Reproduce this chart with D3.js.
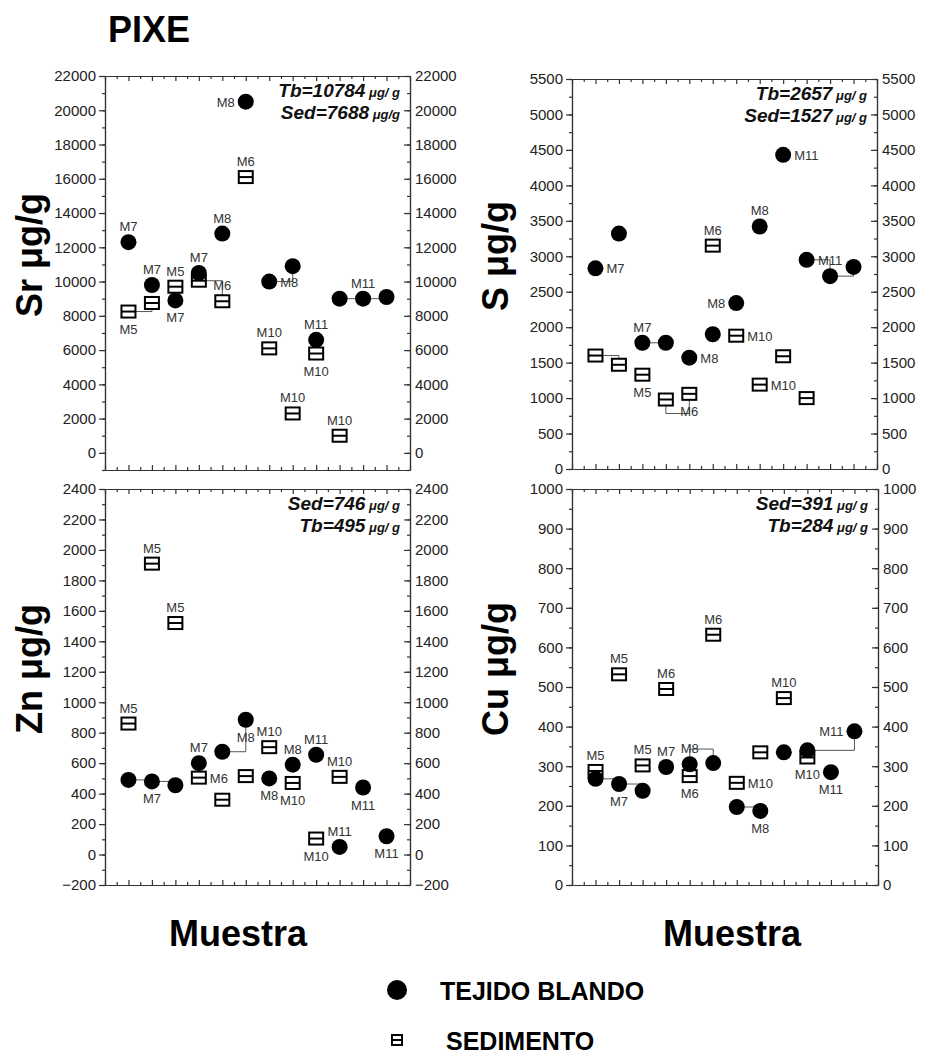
<!DOCTYPE html>
<html>
<head>
<meta charset="utf-8">
<script src="https://cdn.jsdelivr.net/npm/d3@7"></script>
<style>
  body { margin: 0; background: #fff; }
  svg { font-family: "Liberation Sans", Arial, sans-serif; }
  .tick text { font-size: 15px; fill: #222; }
  .axis path, .axis line { stroke: #333; stroke-width: 1.2; }
  .pt-label { font-size: 13px; fill: #333; }
  .note { font-weight: bold; font-style: italic; fill: #111; }
</style>
</head>
<body>
<div id="chart"></div>
<script>
// sample positions along the x axis (no labels shown)
const muestras = [1, 2, 3, 4, 5, 6, 7, 8, 9, 10, 11, 12];

// Sr
const srTejido = [12300, 9800, 8900, 10500, 12800, 20500, 10000, 10900, 6600, 9000, 9000, 9100];
const srSedimento = [8250, 8750, 9700, 10050, 8850, 16100, 6100, 2300, 5800, 1000];
const srTejidoLabels = ["M7", "M7", "M7", "M7", "M8", "M8", "M8", "", "M11", "", "M11", ""];
const srSedimentoLabels = ["M5", "", "M5", "", "M6", "M6", "M10", "M10", "M10", "M10"];
const srTicks = [0, 2000, 4000, 6000, 8000, 10000, 12000, 14000, 16000, 18000, 20000, 22000];
const srNote = ["Tb=10784", "Sed=7688"];

// S
const sTejido = [2830, 3320, 1780, 1780, 1570, 1900, 2340, 3420, 4430, 2950, 2720, 2850];
const sSedimento = [1600, 1470, 1330, 980, 1060, 3150, 1880, 1190, 1590, 1000];
const sTejidoLabels = ["M7", "", "M7", "", "M8", "", "M8", "M8", "M11", "", "M11", ""];
const sSedimentoLabels = ["", "", "M5", "", "M6", "M6", "M10", "M10", "", ""];
const sTicks = [0, 500, 1000, 1500, 2000, 2500, 3000, 3500, 4000, 4500, 5000, 5500];
const sNote = ["Tb=2657", "Sed=1527"];

// Zn
const znTejido = [490, 480, 455, 600, 675, 885, 500, 590, 655, 50, 440, 120];
const znSedimento = [860, 1910, 1520, 505, 360, 515, 705, 470, 105, 510];
const znTejidoLabels = ["", "M7", "", "M7", "", "M8", "M8", "M8", "M11", "M11", "M11", "M11"];
const znSedimentoLabels = ["M5", "M5", "M5", "M6", "", "", "M10", "M10", "M10", "M10"];
const znTicks = [-200, 0, 200, 400, 600, 800, 1000, 1200, 1400, 1600, 1800, 2000, 2200, 2400];
const znNote = ["Sed=746", "Tb=495"];

// Cu
const cuTejido = [268, 255, 238, 298, 305, 308, 197, 187, 335, 340, 285, 388];
const cuSedimento = [288, 532, 302, 495, 275, 632, 258, 335, 472, 322];
const cuTejidoLabels = ["", "M7", "", "M7", "M8", "", "", "M8", "", "", "M11", "M11"];
const cuSedimentoLabels = ["M5", "M5", "M5", "M6", "M6", "M6", "M10", "", "M10", "M10"];
const cuTicks = [0, 100, 200, 300, 400, 500, 600, 700, 800, 900, 1000];
const cuNote = ["Sed=391", "Tb=284"];

// panel layout and label placement (t/b/l/r around the marker)
const panels = [
  { name: "Sr", box: [105, 76, 410, 470], domain: [-1000, 22000], minor: 1000,
    tejido: srTejido, sed: srSedimento, tLab: srTejidoLabels, sLab: srSedimentoLabels, ticks: srTicks, note: srNote,
    tPos: ["t", "t", "b", "t", "t", "l", "r", "", "t", "", "t", ""],
    sPos: ["b", "", "t", "", "t", "t", "t", "t", "b", "t"],
    links: [["s", 1, 2, "h"], ["s", 4, 5, "h"], ["c", 7, 8, "h"], ["c", 10, 12, "h"]],
    unit2: " μg/g", labelX: 42 },
  { name: "S", box: [572, 79, 877, 469], domain: [0, 5500], minor: 250,
    tejido: sTejido, sed: sSedimento, tLab: sTejidoLabels, sLab: sSedimentoLabels, ticks: sTicks, note: sNote,
    tPos: ["r", "", "t", "", "r", "", "l", "t", "r", "", "t", ""],
    sPos: ["", "", "b", "", "b", "t", "r", "r", "", ""],
    links: [["c", 3, 4, "h"], ["c", 10, 12, "h"], ["s", 1, 2, "h"], ["s", 4, 5, "u"]],
    unit2: " μg/ g", labelX: 508 },
  { name: "Zn", box: [105, 489, 410, 885], domain: [-200, 2400], minor: 100,
    tejido: znTejido, sed: znSedimento, tLab: znTejidoLabels, sLab: znSedimentoLabels, ticks: znTicks, note: znNote,
    tPos: ["", "b", "", "t", "", "b", "b", "t", "t", "t", "b", "b"],
    sPos: ["t", "t", "t", "r", "", "", "t", "b", "b", "t"],
    links: [["c", 1, 3, "h"], ["c", 5, 6, "h"]],
    unit2: " μg/ g", labelX: 42 },
  { name: "Cu", box: [572, 489, 878, 885], domain: [0, 1000], minor: 50,
    tejido: cuTejido, sed: cuSedimento, tLab: cuTejidoLabels, sLab: cuSedimentoLabels, ticks: cuTicks, note: cuNote,
    tPos: ["", "b", "", "t", "t", "", "", "b", "", "", "b", "l"],
    sPos: ["t", "t", "t", "t", "b", "t", "r", "", "t", "b"],
    links: [["c", 1, 3, "h"], ["c", 5, 6, "n"], ["c", 7, 8, "h"], ["c", 10, 12, "d"]],
    unit2: " μg/ g", labelX: 508 }
];

const svg = d3.select("#chart").append("svg").attr("width", 925).attr("height", 1057);

svg.append("text").attr("x", 108).attr("y", 42)
  .style("font-size", "36px").style("font-weight", "bold").text("PIXE");

function drawPanel(p) {
  const [x0, y0, x1, y1] = p.box;
  const x = d3.scaleLinear().domain([0, 13]).range([x0, x1]);
  const y = d3.scaleLinear().domain(p.domain).range([y1, y0]);
  const g = svg.append("g");
  const minorTicks = d3.range(p.domain[0], p.domain[1] + 1, p.minor);

  // y axes
  g.append("g").attr("class", "axis").attr("transform", `translate(${x0},0)`)
    .call(d3.axisLeft(y).tickValues(minorTicks).tickSize(3).tickSizeOuter(0).tickFormat(""));
  g.append("g").attr("class", "axis").attr("transform", `translate(${x0},0)`)
    .call(d3.axisLeft(y).tickValues(p.ticks).tickSize(6).tickSizeOuter(0).tickPadding(3).tickFormat(d3.format("d")));
  g.append("g").attr("class", "axis").attr("transform", `translate(${x1},0)`)
    .call(d3.axisRight(y).tickValues(minorTicks).tickSize(-3).tickSizeOuter(0).tickFormat(""));
  g.append("g").attr("class", "axis").attr("transform", `translate(${x1},0)`)
    .call(d3.axisRight(y).tickValues(p.ticks).tickSize(-6).tickSizeOuter(0).tickPadding(5).tickFormat(d3.format("d")));

  // x axes, ticks inward, no labels
  const major = d3.range(0, 14);
  const half = d3.range(0.5, 13, 1);
  [[d3.axisBottom, y1], [d3.axisTop, y0]].forEach(([ax, yy]) => {
    g.append("g").attr("class", "axis").attr("transform", `translate(0,${yy})`)
      .call(ax(x).tickValues(major).tickSize(-5).tickSizeOuter(0).tickFormat(""));
    g.append("g").attr("class", "axis").attr("transform", `translate(0,${yy})`)
      .call(ax(x).tickValues(half).tickSize(-3).tickSizeOuter(0).tickFormat(""));
  });

  // leader lines between related points
  const pos = (s, i) => {
    const v = s === "c" ? p.tejido[i - 1] : p.sed[i - 1];
    return [x(muestras[i - 1]), y(v)];
  };
  p.links.forEach(([s, a, b, kind]) => {
    const [ax, ay] = pos(s, a);
    const [bx, by] = pos(s, b);
    let d = `M${ax},${ay}`;
    if (kind === "u" || kind === "n") {
      const pts = d3.range(a, b + 1).map(i => pos(s, i));
      const lvl = kind === "u" ? d3.max(pts, q => q[1]) + 14 : d3.min(pts, q => q[1]) - 14;
      d += `V${lvl}H${bx}V${by}`;
    } else if (kind === "d") {
      d += `H${bx}V${by}`;
    } else {
      d3.range(a + 1, b + 1).forEach(i => {
        const [cx, cy] = pos(s, i);
        d += `H${cx}V${cy}`;
      });
    }
    g.append("path").attr("d", d).attr("fill", "none").attr("stroke", "#555").attr("stroke-width", 1);
  });

  // sediment: open squares with a middle bar
  const sedData = p.sed.map((v, i) => ({ m: muestras[i], v, lab: p.sLab[i], at: p.sPos[i] }));
  const sq = g.selectAll(".sed").data(sedData).join("g").attr("class", "sed")
    .attr("transform", d => `translate(${x(d.m)},${y(d.v)})`);
  sq.append("rect").attr("x", -7).attr("y", -6).attr("width", 14).attr("height", 12)
    .attr("fill", "#fff").attr("stroke", "#000").attr("stroke-width", 2);
  sq.append("line").attr("x1", -7).attr("x2", 7).attr("stroke", "#000").attr("stroke-width", 2);

  // soft tissue: filled circles
  const tejData = p.tejido.map((v, i) => ({ m: muestras[i], v, lab: p.tLab[i], at: p.tPos[i] }));
  g.selectAll(".tej").data(tejData).join("circle").attr("class", "tej")
    .attr("cx", d => x(d.m)).attr("cy", d => y(d.v)).attr("r", 8).attr("fill", "#000");

  // point labels
  const labelled = sedData.concat(tejData).filter(d => d.lab);
  g.selectAll(".pt-label").data(labelled).join("text").attr("class", "pt-label")
    .attr("x", d => x(d.m) + (d.at === "r" ? 11 : d.at === "l" ? -11 : 0))
    .attr("y", d => y(d.v) + (d.at === "t" ? -11 : d.at === "b" ? 22 : 5))
    .attr("text-anchor", d => d.at === "r" ? "start" : d.at === "l" ? "end" : "middle")
    .text(d => d.lab);

  // mean values
  p.note.forEach((t, i) => {
    const txt = g.append("text").attr("class", "note").attr("x", x1 - 10).attr("y", y0 + 21 + i * 22)
      .attr("text-anchor", "end");
    txt.append("tspan").style("font-size", "19px").text(t);
    txt.append("tspan").style("font-size", "13px").text(i === 1 ? p.unit2 : " μg/ g");
  });

  // y title
  const cy = (y0 + y1) / 2 - 18;
  svg.append("text").attr("transform", `translate(${p.labelX},${cy}) rotate(-90)`)
    .attr("text-anchor", "middle").style("font-size", "36px").style("font-weight", "bold")
    .text(`${p.name} μg/g`);
}

panels.forEach(drawPanel);

// x titles
[238, 732].forEach(cx => {
  svg.append("text").attr("x", cx).attr("y", 946).attr("text-anchor", "middle")
    .style("font-size", "36px").style("font-weight", "bold").text("Muestra");
});

// legend
const legend = svg.append("g");
legend.append("circle").attr("cx", 397).attr("cy", 990).attr("r", 10).attr("fill", "#000");
legend.append("text").attr("x", 440).attr("y", 1000).style("font-size", "25px").style("font-weight", "bold")
  .text("TEJIDO BLANDO");
const ls = legend.append("g").attr("transform", "translate(397,1040)");
ls.append("rect").attr("x", -5).attr("y", -5).attr("width", 10).attr("height", 10)
  .attr("fill", "#fff").attr("stroke", "#000").attr("stroke-width", 2);
ls.append("line").attr("x1", -5).attr("x2", 5).attr("stroke", "#000").attr("stroke-width", 2);
legend.append("text").attr("x", 446).attr("y", 1050).style("font-size", "25px").style("font-weight", "bold")
  .text("SEDIMENTO");
</script>
</body>
</html>
